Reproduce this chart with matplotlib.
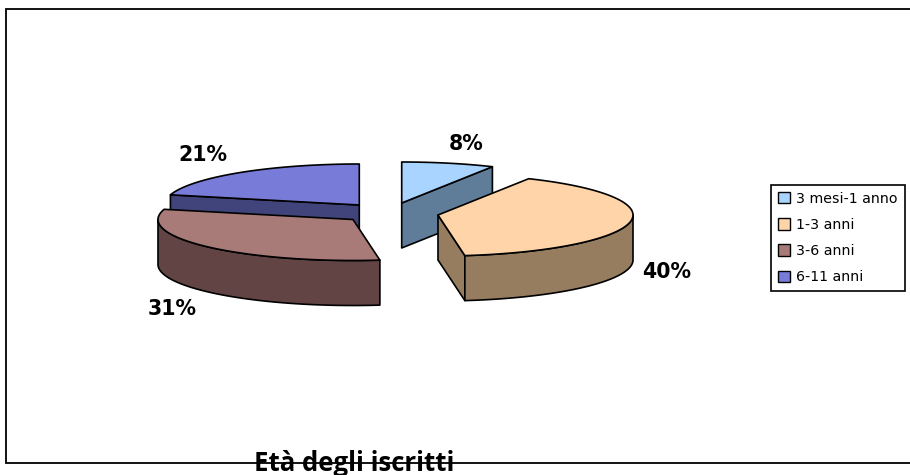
import numpy as np
import matplotlib
matplotlib.use("Agg")
import matplotlib.pyplot as plt
from matplotlib.patches import Polygon, Patch, Rectangle

categories = ["3 mesi-1 anno", "1-3 anni", "3-6 anni", "6-11 anni"]
values = [7.7, 40.1, 31.2, 21.0]
top_colors = ["#A8D4FF", "#FFD4A8", "#A87A78", "#787CD8"]
side_colors = ["#5F7C99", "#977D60", "#634444", "#40447A"]
title = "Età degli iscritti"

# apex of each exploded slice on the top face, in pixels
apex = [(401.7, 203), (438, 215), (353, 219.5), (359.3, 205)]
RX, RY, DEPTH = 195, 41, 45
label_pos = [(466, 144), (667, 272), (172, 309), (203, 155)]

fig = plt.figure(figsize=(9.1, 4.75), dpi=100)
ax = fig.add_axes([0, 0, 1, 1])
ax.set_xlim(0, 910)
ax.set_ylim(475, 0)
ax.axis("off")

ax.add_patch(Rectangle((6, 9), 1000, 454, fc="white", ec="black", lw=1.3, zorder=0))

ends = np.cumsum(values) / np.sum(values) * 360
starts = np.concatenate([[0], ends[:-1]])


def rim(c, t1, t2, dy=0):
    t = np.radians(np.linspace(t1, t2, 120))
    return np.column_stack([c[0] + RX * np.sin(t), c[1] - RY * np.cos(t) + dy])


def add(pts, fc, z):
    ax.add_patch(Polygon(pts, closed=True, fc=fc, ec="black", lw=1.2, joinstyle="round", zorder=z))


def cut(c, t, fc, z):
    p = rim(c, t, t)[0]
    add([c, p, (p[0], p[1] + DEPTH), (c[0], c[1] + DEPTH)], fc, z)


z = 1
for i in [3, 2, 0, 1]:
    c, t1, t2 = apex[i], starts[i], ends[i]
    if np.sin(np.radians(t1)) < -1e-6:
        cut(c, t1, side_colors[i], z)
    if np.sin(np.radians(t2)) > 1e-6:
        cut(c, t2, side_colors[i], z)
    a, b = max(t1, 90), min(t2, 270)
    if a < b:
        add(np.vstack([rim(c, a, b), rim(c, b, a, DEPTH)]), side_colors[i], z)
    add(np.vstack([[c], rim(c, t1, t2)]), top_colors[i], z + 0.5)
    z += 1

for v, (x, y) in zip(values, label_pos):
    ax.text(x, y, f"{round(v)}%", ha="center", va="center", fontsize=14.8, fontweight="bold",
            family="DejaVu Sans", color="black", zorder=10)

ax.text(354, 471, title, ha="center", va="baseline", fontsize=18.5, fontweight="bold",
        family="Open Sans", color="black", zorder=10)

handles = [Patch(fc=col, ec="black", lw=1.0) for col in top_colors]
leg = ax.legend(handles, categories, loc="upper left", bbox_to_anchor=(771 / 910, 1 - 184.5 / 475),
                bbox_transform=fig.transFigure, frameon=True, fancybox=False,
                edgecolor="black", framealpha=1, borderaxespad=0, borderpad=0.5,
                labelspacing=0.86, handlelength=0.85, handleheight=0.85, handletextpad=0.42,
                prop={"family": "DejaVu Sans", "size": 10.2})
leg.get_frame().set_linewidth(1.2)
leg.set_zorder(11)

fig.savefig("out.png", dpi=100)
